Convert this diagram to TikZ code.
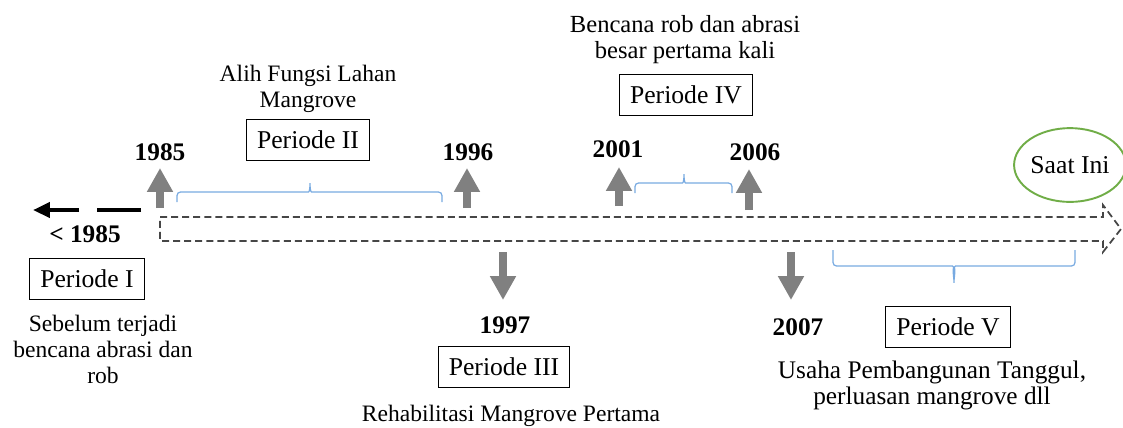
\documentclass[tikz,border=0pt]{standalone}
\usepackage{fontspec}
\setmainfont{Liberation Serif}
\usetikzlibrary{arrows.meta,shapes.geometric}

\definecolor{kurungbiru}{RGB}{120,170,225}
\definecolor{hijau}{RGB}{112,173,71}
\definecolor{abu}{RGB}{128,128,128}
\definecolor{abutua}{RGB}{70,70,70}

\tikzset{
  huruf/.style={font=\fontsize{14.6}{14.8}\selectfont},
  kecil/.style={font=\fontsize{13.4}{14.8}\selectfont},
  periode/.style={huruf, draw=black, line width=0.7pt, minimum height=23.5pt, inner xsep=6pt, inner ysep=0pt},
  teks/.style={huruf, align=center, inner sep=0pt},
  tahun/.style={inner sep=0pt, anchor=base, font=\fontsize{14.4}{14.8}\selectfont\bfseries},
  panah/.style={abu, line width=4.5pt, -{Triangle[width=14pt,length=13.6pt]}},
  kurung/.style={kurungbiru, line width=0.7pt, rounded corners=2pt},
}

\begin{document}
\begin{tikzpicture}[x=0.02cm, y=-0.02cm]
\useasboundingbox (0,0) rectangle (1123,427);

% Garis waktu
\draw[abutua, line width=1pt, dash pattern=on 4pt off 2.3pt]
  (160,217) -- (1103,217) -- (1103,205) -- (1121,229) -- (1103,252) -- (1103,241) -- (160,241) -- cycle;

% Sebelum 1985
\draw[black, line width=2.8pt, dash pattern=on 25pt off 10.2pt on 100pt, -{Triangle[length=9.6pt,width=8.5pt]}] (141,210) -- (33,210);
\node[tahun] (thn84) at (85,242) {< 1985};

% Periode I
\node[periode] (p1) at (87,279) {Periode I};
\node[teks, kecil] (sebelum) at (103,349) {Sebelum terjadi\\bencana abrasi dan\\rob};

% Periode II
\node[teks, kecil] (alih) at (308,89) {Alih Fungsi Lahan\\Mangrove};
\node[periode] (p2) at (308,140) {Periode II};
\draw[kurung] (177,202) |- (305,192) to[out=0,in=-90] (310,181) to[out=-90,in=180] (315,192) -| (442,202);

% Panah atas
\draw[panah] (160,208) -- (160,168);
\node[tahun] (thn85) at (160,160) {1985};
\draw[panah] (467,208) -- (467,168);
\node[tahun] (thn96) at (468,160) {1996};
\draw[panah] (619,206) -- (619,167);
\node[tahun] (thn01) at (618,157) {2001};
\draw[panah] (749,210) -- (749,169);
\node[tahun] (thn06) at (755,160) {2006};

% Periode III
\draw[panah] (503,252) -- (503,300);
\node[tahun] (thn97) at (505,333) {1997};
\node[periode] (p3) at (504,367) {Periode III};
\node[teks, kecil, anchor=base] (rehab) at (511,421) {Rehabilitasi Mangrove Pertama};

% Periode IV
\node[teks, font=\fontsize{14}{14.8}\selectfont] (bencana) at (685,39.5) {Bencana rob dan abrasi\\besar pertama kali};
\node[periode] (p4) at (686,95) {Periode IV};
\draw[kurung] (635,193) |- (679,183) to[out=0,in=-90] (684,172) to[out=-90,in=180] (689,183) -| (732,193);

% Periode V
\draw[panah] (791,252) -- (791,300);
\node[tahun] (thn07) at (798,335) {2007};
\node[periode] (p5) at (948,327) {Periode V};
\draw[kurung] (833,250) |- (949,266) to[out=0,in=90] (954,285) to[out=90,in=180] (959,266) -| (1075,250);
\node[teks, font=\fontsize{14.4}{14.8}\selectfont] (usaha) at (932,385.5) {Usaha Pembangunan Tanggul,\\perluasan mangrove dll};

% Saat ini
\node[huruf, ellipse, draw=hijau, line width=1.1pt, minimum width=57.5pt, minimum height=42pt, inner sep=0pt] (kini) at (1070,165) {Saat Ini};

\end{tikzpicture}
\end{document}
